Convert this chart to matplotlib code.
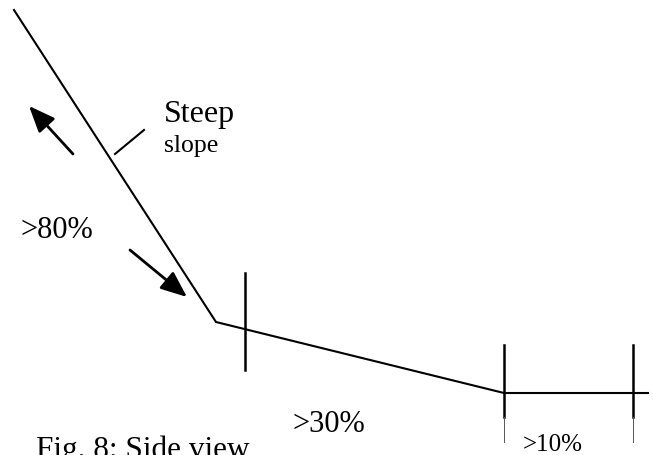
import matplotlib
matplotlib.use("Agg")
import matplotlib.pyplot as plt
from matplotlib.patches import FancyArrowPatch

plt.rcParams["font.family"] = ["Liberation Serif", "DejaVu Serif"]

# slope profile (pixel coordinates, y down)
profile_x = [14, 216, 504, 648]
profile_y = [10, 322, 393, 393]

# boundary ticks: x, top, bottom
tick_x = [245, 504, 633]
tick_top = [273, 345, 345]
tick_bottom = [370, 417, 417]
# thin extension lines below the flat part
ext_x = [504, 633]
ext_top = [417, 417]
ext_bottom = [442, 442]

# arrows (start -> end)
arrows = [((73, 154), (29, 106)), ((130, 250), (187, 297))]

# leader line for "Steep slope"
leader_x = [115, 144]
leader_y = [154, 130]

labels = [
    ("Steep", 164, 122, 23),
    ("slope", 164, 152, 18.5),
    (">80%", 21, 238, 22),
    (">30%", 293, 432, 22),
    (">10%", 523, 451, 18),
    ("Fig. 8: Side view", 36, 458, 22.5),
]

fig = plt.figure(figsize=(6.53, 4.55), dpi=100)
ax = fig.add_axes([0, 0, 1, 1])
ax.set_xlim(0, 653)
ax.set_ylim(455, 0)
ax.axis("off")

ax.plot(profile_x, profile_y, color="black", lw=1.5, solid_joinstyle="miter")

for x, t, b in zip(tick_x, tick_top, tick_bottom):
    ax.plot([x, x], [t, b], color="black", lw=1.8)
for x, t, b in zip(ext_x, ext_top, ext_bottom):
    ax.plot([x, x], [t, b], color="#555555", lw=0.7)

ax.plot(leader_x, leader_y, color="black", lw=1.5)

for (x0, y0), (x1, y1) in arrows:
    arr = FancyArrowPatch((x0, y0), (x1, y1), arrowstyle="-|>,head_length=0.8,head_width=0.33",
                          mutation_scale=20, color="black", lw=2, shrinkA=0, shrinkB=0)
    ax.add_patch(arr)

for txt, x, y, size in labels:
    ax.text(x, y, txt, fontsize=size, ha="left", va="baseline", color="black")

fig.savefig("out.png", dpi=100)
